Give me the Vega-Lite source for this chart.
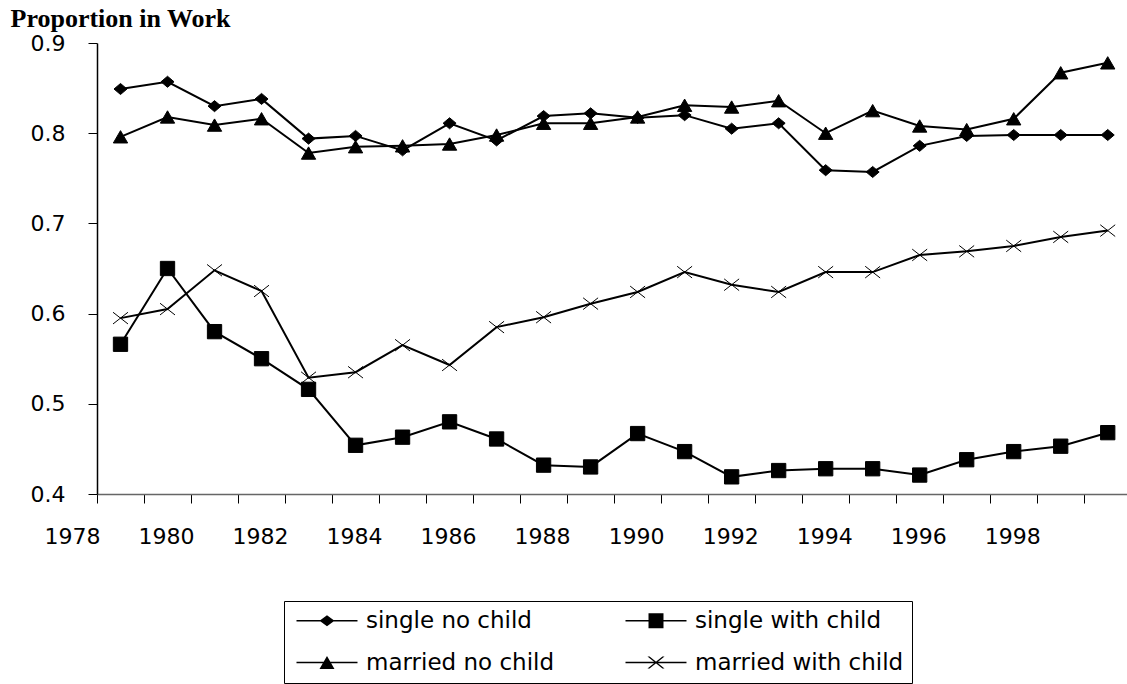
{
  "$schema": "https://vega.github.io/schema/vega-lite/v6.json",
  "width": 1030,
  "height": 451,
  "autosize": {"type": "none"},
  "padding": {"left": 97, "top": 43, "right": 0, "bottom": 190},
  "background": "white",
  "config": {"view": {"stroke": null}, "font": "DejaVu Sans"},
  "data": {"values": [
    {"year":1979,"series":"single no child","value":0.849},
    {"year":1980,"series":"single no child","value":0.857},
    {"year":1981,"series":"single no child","value":0.830},
    {"year":1982,"series":"single no child","value":0.838},
    {"year":1983,"series":"single no child","value":0.794},
    {"year":1984,"series":"single no child","value":0.797},
    {"year":1985,"series":"single no child","value":0.781},
    {"year":1986,"series":"single no child","value":0.811},
    {"year":1987,"series":"single no child","value":0.792},
    {"year":1988,"series":"single no child","value":0.819},
    {"year":1989,"series":"single no child","value":0.822},
    {"year":1990,"series":"single no child","value":0.817},
    {"year":1991,"series":"single no child","value":0.820},
    {"year":1992,"series":"single no child","value":0.805},
    {"year":1993,"series":"single no child","value":0.811},
    {"year":1994,"series":"single no child","value":0.759},
    {"year":1995,"series":"single no child","value":0.757},
    {"year":1996,"series":"single no child","value":0.786},
    {"year":1997,"series":"single no child","value":0.797},
    {"year":1998,"series":"single no child","value":0.798},
    {"year":1999,"series":"single no child","value":0.798},
    {"year":2000,"series":"single no child","value":0.798},
    {"year":1979,"series":"single with child","value":0.566},
    {"year":1980,"series":"single with child","value":0.650},
    {"year":1981,"series":"single with child","value":0.580},
    {"year":1982,"series":"single with child","value":0.550},
    {"year":1983,"series":"single with child","value":0.516},
    {"year":1984,"series":"single with child","value":0.454},
    {"year":1985,"series":"single with child","value":0.463},
    {"year":1986,"series":"single with child","value":0.480},
    {"year":1987,"series":"single with child","value":0.461},
    {"year":1988,"series":"single with child","value":0.432},
    {"year":1989,"series":"single with child","value":0.430},
    {"year":1990,"series":"single with child","value":0.467},
    {"year":1991,"series":"single with child","value":0.447},
    {"year":1992,"series":"single with child","value":0.419},
    {"year":1993,"series":"single with child","value":0.426},
    {"year":1994,"series":"single with child","value":0.428},
    {"year":1995,"series":"single with child","value":0.428},
    {"year":1996,"series":"single with child","value":0.421},
    {"year":1997,"series":"single with child","value":0.438},
    {"year":1998,"series":"single with child","value":0.447},
    {"year":1999,"series":"single with child","value":0.453},
    {"year":2000,"series":"single with child","value":0.468},
    {"year":1979,"series":"married no child","value":0.796},
    {"year":1980,"series":"married no child","value":0.818},
    {"year":1981,"series":"married no child","value":0.809},
    {"year":1982,"series":"married no child","value":0.816},
    {"year":1983,"series":"married no child","value":0.778},
    {"year":1984,"series":"married no child","value":0.785},
    {"year":1985,"series":"married no child","value":0.786},
    {"year":1986,"series":"married no child","value":0.788},
    {"year":1987,"series":"married no child","value":0.798},
    {"year":1988,"series":"married no child","value":0.811},
    {"year":1989,"series":"married no child","value":0.811},
    {"year":1990,"series":"married no child","value":0.818},
    {"year":1991,"series":"married no child","value":0.831},
    {"year":1992,"series":"married no child","value":0.829},
    {"year":1993,"series":"married no child","value":0.836},
    {"year":1994,"series":"married no child","value":0.800},
    {"year":1995,"series":"married no child","value":0.825},
    {"year":1996,"series":"married no child","value":0.808},
    {"year":1997,"series":"married no child","value":0.804},
    {"year":1998,"series":"married no child","value":0.816},
    {"year":1999,"series":"married no child","value":0.867},
    {"year":2000,"series":"married no child","value":0.878},
    {"year":1979,"series":"married with child","value":0.595},
    {"year":1980,"series":"married with child","value":0.605},
    {"year":1981,"series":"married with child","value":0.648},
    {"year":1982,"series":"married with child","value":0.625},
    {"year":1983,"series":"married with child","value":0.529},
    {"year":1984,"series":"married with child","value":0.535},
    {"year":1985,"series":"married with child","value":0.565},
    {"year":1986,"series":"married with child","value":0.543},
    {"year":1987,"series":"married with child","value":0.585},
    {"year":1988,"series":"married with child","value":0.596},
    {"year":1989,"series":"married with child","value":0.611},
    {"year":1990,"series":"married with child","value":0.624},
    {"year":1991,"series":"married with child","value":0.646},
    {"year":1992,"series":"married with child","value":0.632},
    {"year":1993,"series":"married with child","value":0.624},
    {"year":1994,"series":"married with child","value":0.646},
    {"year":1995,"series":"married with child","value":0.646},
    {"year":1996,"series":"married with child","value":0.665},
    {"year":1997,"series":"married with child","value":0.669},
    {"year":1998,"series":"married with child","value":0.675},
    {"year":1999,"series":"married with child","value":0.685},
    {"year":2000,"series":"married with child","value":0.692}
  ]},
  "layer": [
    {
      "mark": {"type": "line", "color": "black", "strokeWidth": 2},
      "encoding": {
        "x": {
          "field": "year", "type": "quantitative",
          "scale": {"domain": [1978.5, 2000.41], "nice": false, "zero": false},
          "axis": {
            "title": null, "grid": false,
            "values": [1978.5,1979.5,1980.5,1981.5,1982.5,1983.5,1984.5,1985.5,1986.5,1987.5,1988.5,1989.5,1990.5,1991.5,1992.5,1993.5,1994.5,1995.5,1996.5,1997.5,1998.5,1999.5],
            "labelExpr": "((datum.value - 0.5) % 2 == 0 && datum.value < 1999) ? format(datum.value - 0.5, 'd') : ''",
            "labelOffset": -25,
            "labelFlush": false,
            "labelOverlap": false,
            "labelFont": "DejaVu Sans", "labelFontSize": 22, "labelColor": "black",
            "labelPadding": 23,
            "tickSize": 9, "tickColor": "black", "tickWidth": 1,
            "domainColor": "#666666", "domainWidth": 1.5
          }
        },
        "y": {
          "field": "value", "type": "quantitative",
          "scale": {"domain": [0.4, 0.9], "nice": false, "zero": false},
          "axis": {
            "values": [0.4, 0.5, 0.6, 0.7, 0.8, 0.9], "format": ".1f", "grid": false,
            "labelFlush": false, "labelOverlap": false,
            "labelFont": "DejaVu Sans", "labelFontSize": 22, "labelColor": "black",
            "labelPadding": 23,
            "tickSize": 9, "tickColor": "black", "tickWidth": 1,
            "domainColor": "black", "domainWidth": 1.5,
            "title": "Proportion in Work", "titleAngle": 0, "titleAlign": "left",
            "titleBaseline": "alphabetic", "titleX": -87, "titleY": -17,
            "titleFont": "Liberation Serif", "titleFontSize": 26, "titleFontWeight": "bold",
            "titleColor": "black"
          }
        },
        "detail": {"field": "series"}
      }
    },
    {
      "mark": {"type": "point", "filled": true, "opacity": 1, "fill": "black", "stroke": "black", "size": 169},
      "encoding": {
        "x": {"field": "year", "type": "quantitative"},
        "y": {"field": "value", "type": "quantitative"},
        "shape": {
          "field": "series",
          "scale": {
            "domain": ["single no child", "single with child", "married no child", "married with child"],
            "range": ["M-1,0L0,-0.85L1,0L0,0.85Z", "M-1.1,-1.1H1.1V1.1H-1.1Z", "M0,-0.95L1.1,0.95H-1.1Z", "M-1.15,-0.9L1.15,0.9M-1.15,0.9L1.15,-0.9"]
          },
          "legend": null
        },
        "strokeWidth": {
          "field": "series",
          "scale": {
            "domain": ["single no child", "single with child", "married no child", "married with child"],
            "range": [1, 1, 1, 2]
          },
          "legend": null
        }
      }
    },
    {
      "transform": [{"filter": "false"}],
      "mark": {"type": "point", "filled": true, "opacity": 1, "size": 196, "color": "black"},
      "encoding": {
        "x": {"field": "year", "type": "quantitative"},
        "y": {"field": "value", "type": "quantitative"},
        "shape": {
          "field": "series",
          "scale": {
            "domain": ["single no child", "single with child", "married no child", "married with child"],
            "range": [
              "M-1,-0.12H7.714V0.12H-1Z M2.287,0L3.357,-0.79L4.427,0L3.357,0.79Z",
              "M-1,-0.12H7.714V0.12H-1Z M2.287,-1.07H4.427V1.07H2.287Z",
              "M-1,-0.12H7.714V0.12H-1Z M3.357,-0.93L4.427,0.93H2.287Z",
              "M-1,-0.12H7.714V0.12H-1Z M2.137,-0.857H2.437L4.577,0.857H4.277Z M2.137,0.857L4.277,-0.857H4.577L2.437,0.857Z"
            ]
          },
          "legend": {
            "title": null, "orient": "none", "legendX": 187, "legendY": 558,
            "columns": 2, "direction": "horizontal",
            "strokeColor": "black", "fillColor": "white", "padding": 8,
            "rowPadding": 18, "columnPadding": 66,
            "labelFont": "DejaVu Sans", "labelFontSize": 23, "labelColor": "black",
            "labelOffset": 51, "labelLimit": 400,
            "symbolSize": 196, "symbolStrokeWidth": 0,
            "symbolFillColor": "black", "symbolOpacity": 1
          }
        }
      }
    }
  ],
  "resolve": {"scale": {"shape": "independent", "strokeWidth": "independent"}}
}
